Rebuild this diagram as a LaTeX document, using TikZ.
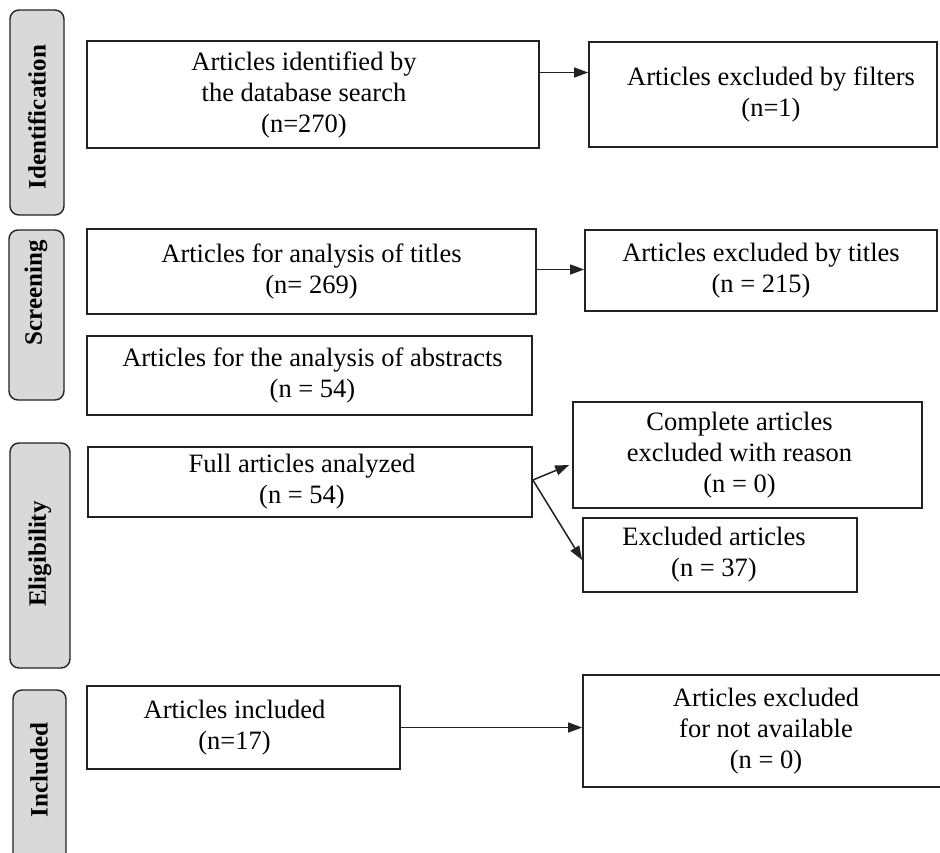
\documentclass[tikz,border=0pt]{standalone}
\usepackage{fontspec}
\setmainfont{Liberation Serif}
\usetikzlibrary{arrows.meta,calc}
\definecolor{phasefill}{HTML}{D9D9D9}
\definecolor{edge}{HTML}{222222}
\tikzset{
  box/.style={draw=edge, line width=1.7pt, fill=white, inner sep=0pt},
  txt/.style={align=center, inner sep=0pt, font=\fontsize{26.5}{31}\selectfont},
  phasebox/.style={draw=edge, line width=1.4pt, fill=phasefill, rounded corners=9pt},
  plabel/.style={rotate=90, font=\bfseries\fontsize{25}{28}\selectfont, inner sep=0pt},
  arr/.style={draw=edge, line width=1.5pt, -{Triangle[length=14pt,width=10pt]}}
}
\begin{document}
\begin{tikzpicture}[x=1pt,y=-1pt]
\useasboundingbox (0,0) rectangle (940,852);
\clip (0,0) rectangle (940,852);
\fill[white] (0,0) rectangle (940,852);
% phase boxes
\draw[phasebox] (10,10) rectangle (64,215);
\node[plabel] (lid) at (37,117) {Identification};
\draw[phasebox] (9,230) rectangle (64,400);
\node[plabel] (lsc) at (36,293) {Screening};
\draw[phasebox] (10,443) rectangle (70,668);
\node[plabel] (lel) at (40,554) {Eligibility};
\draw[phasebox] (13,690) rectangle (66,880);
\node[plabel] (lin) at (39,770) {Included};
% main boxes
\node[box, minimum width=452pt, minimum height=107pt] (B1) at (313,94.5) {};
\node[txt] (tB1) at ([xshift=-9pt]B1.center) {Articles identified by\\the database search\\(n=270)};
\node[box, minimum width=348pt, minimum height=105pt] (E1) at (763,94.5) {};
\node[txt] (tE1) at ([xshift=8pt]E1.center) {Articles excluded by filters\\(n=1)};
\node[box, minimum width=449pt, minimum height=85pt] (B2) at (311.5,271.5) {};
\node[txt] (tB2) at (B2.center) {Articles for analysis of titles\\(n= 269)};
\node[box, minimum width=352pt, minimum height=81pt] (E2) at (761,270.5) {};
\node[txt] (tE2) at (E2.center) {Articles excluded by titles\\(n = 215)};
\node[box, minimum width=445pt, minimum height=79pt] (B3) at (309.5,375.5) {};
\node[txt] (tB3) at ([xshift=3pt]B3.center) {Articles for the analysis of abstracts\\(n = 54)};
\node[box, minimum width=444pt, minimum height=70pt] (B4) at (310,482) {};
\node[txt] (tB4) at ([xshift=-8pt]B4.center) {Full articles analyzed\\(n = 54)};
\node[box, minimum width=349pt, minimum height=106pt] (E3) at (747.5,455) {};
\node[txt] (tE3) at ([xshift=-8pt]E3.center) {Complete articles\\excluded with reason\\(n = 0)};
\node[box, minimum width=274pt, minimum height=74pt] (E4) at (720,555) {};
\node[txt] (tE4) at ([xshift=-6pt]E4.center) {Excluded articles\\(n = 37)};
\node[box, minimum width=313pt, minimum height=83pt] (B5) at (243.5,727.5) {};
\node[txt] (tB5) at ([xshift=-9pt]B5.center) {Articles included\\(n=17)};
\node[box, minimum width=362pt, minimum height=112pt] (E5) at (764,731) {};
\node[txt] (tE5) at ([xshift=2pt]E5.center) {Articles excluded\\for not available\\(n = 0)};
% connectors
\draw[arr] ([yshift=22pt]B1.east) -- ([yshift=22pt]B1.east -| E1.west);
\draw[arr] ([yshift=2pt]B2.east) -- ([yshift=2pt]B2.east -| E2.west);
\draw[arr] ([yshift=2pt]B4.east) -- ([shift={(-3pt,-10pt)}]E3.west);
\draw[arr] ([yshift=2pt]B4.east) -- ([yshift=-5pt]E4.west);
\draw[arr] (B5.east) -- (B5.east -| E5.west);
\end{tikzpicture}
\end{document}
